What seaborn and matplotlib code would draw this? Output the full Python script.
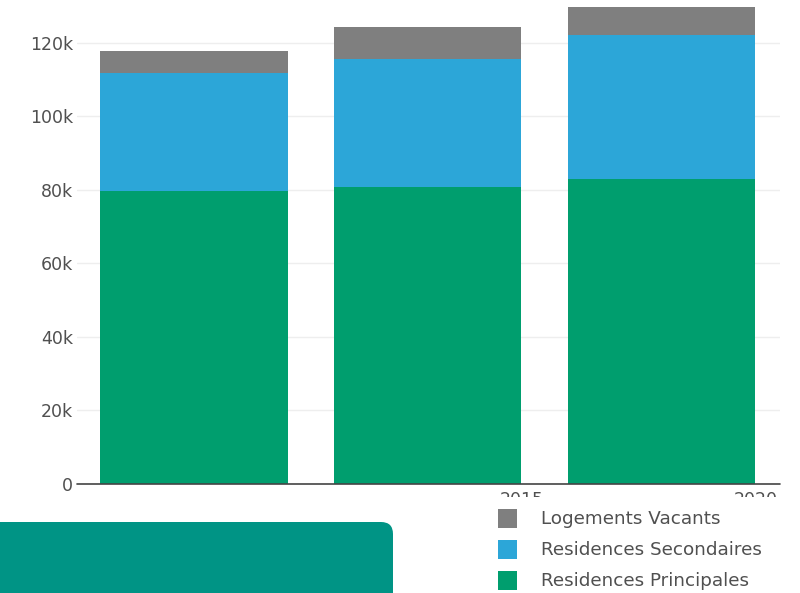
import matplotlib
matplotlib.use("Agg")
import matplotlib.pyplot as plt
import seaborn as sns
import pandas as pd
from matplotlib.patches import FancyBboxPatch, Rectangle

years = ["2010", "2015", "2020"]
principales = [79700, 80700, 82900]
secondaires = [32100, 34900, 39300]
vacants = [6000, 8800, 7700]
tick_labels = ["2015", "2020"]
series_names = ["Logements Vacants", "Residences Secondaires", "Residences Principales"]
colors = ["#7f7f7f", "#2ca6d8", "#009e6e"]

df = pd.DataFrame({"year": years, "p": principales, "s": secondaires, "v": vacants})
df["ps"] = df["p"] + df["s"]
df["total"] = df["ps"] + df["v"]

sns.set_style("white")
plt.rcParams["font.family"] = ["DejaVu Sans"]

fig = plt.figure(figsize=(8, 5.93), dpi=100)
ax = fig.add_axes([77/800, 1-484/593, (780-77)/800, 484/593])

for col, c in [("total", colors[0]), ("ps", colors[1]), ("p", colors[2])]:
    sns.barplot(data=df, x="year", y=col, color=c, width=0.8, saturation=1,
                edgecolor="none", linewidth=0, ax=ax, zorder=3)

ax.set_xlim(-0.5, 2.505)
ax.set_ylim(0, 131700)
ax.set_yticks([0, 20000, 40000, 60000, 80000, 100000, 120000])
ax.set_yticklabels(["0", "20k", "40k", "60k", "80k", "100k", "120k"])
ax.set_xticks([1.4, 2.4])
ax.set_xticklabels(tick_labels)
ax.set_xlabel("")
ax.set_ylabel("")
ax.grid(axis="y", color="#eeeeee", linewidth=1, zorder=0)
ax.axhline(0, color="#444444", linewidth=1.2, zorder=4, clip_on=False)
for s in ax.spines.values():
    s.set_visible(False)
ax.tick_params(axis="y", length=0, pad=3, labelsize=12.5, labelcolor="#505050")
ax.tick_params(axis="x", length=0, pad=5, labelsize=12.5, labelcolor="#505050")

# white area hiding lower part of x labels
fig.patches.append(Rectangle((0, 0), 1, 1-497/593, transform=fig.transFigure,
                             facecolor="white", edgecolor="none", zorder=10))

# teal box bottom left
fig.patches.append(FancyBboxPatch((-30/800, -40/593), 423/800, 111/593,
                                  boxstyle="round,pad=0,rounding_size=0.015",
                                  transform=fig.transFigure, facecolor="#009485",
                                  edgecolor="none", zorder=11, mutation_aspect=800/593))

# legend
ys = [519, 550, 581]
for name, c, y in zip(series_names, colors, ys):
    fig.patches.append(Rectangle((498/800, 1-(y+9)/593), 19/800, 19/593,
                                 transform=fig.transFigure, facecolor=c,
                                 edgecolor="none", zorder=12))
    fig.text(541/800, 1-y/593, name, ha="left", va="center", fontsize=13.2,
             color="#505050", zorder=12)

fig.savefig("out.png", dpi=100)
